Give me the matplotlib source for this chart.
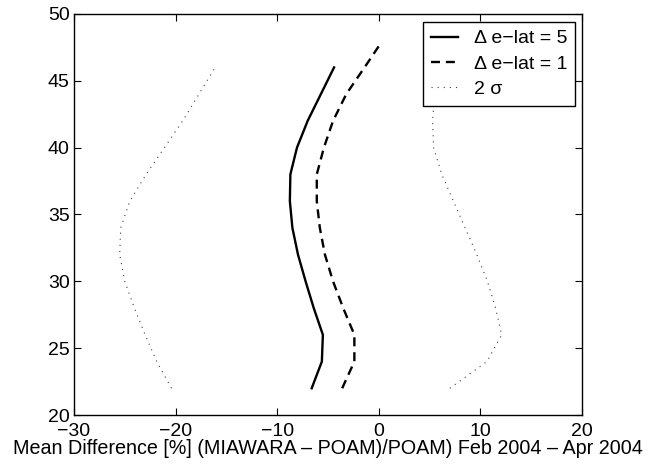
import numpy as np
import matplotlib
matplotlib.use('Agg')
import matplotlib.pyplot as plt

plt.rcParams['font.family'] = ['Liberation Sans', 'DejaVu Sans']

# altitude levels [km]
alt = [22, 24, 26, 28, 30, 32, 34, 36, 38, 40, 42, 44, 46]
alt_e1 = [22, 24, 26, 28, 30, 32, 34, 36, 38, 40, 42, 44, 46, 47.7]

# mean difference [%], e-lat window 5
diff_e5 = [-6.6, -5.6, -5.5, -6.4, -7.2, -7.95, -8.5, -8.75, -8.7, -8.05, -7.0, -5.7, -4.4]
# mean difference [%], e-lat window 1
diff_e1 = [-3.6, -2.4, -2.4, -3.5, -4.5, -5.3, -5.8, -6.1, -6.1, -5.4, -4.5, -3.2, -1.4, 0.1]
# 2 sigma envelope
sig_lo = [-20.4, -21.85, -23.0, -24.05, -25.0, -25.5, -25.4, -24.5, -22.9, -21.1, -19.3, -17.7, -16.1]
sig_hi = [7.0, 10.65, 12.1, 11.5, 10.7, 9.65, 8.5, 7.35, 6.2, 5.4, 5.3, 5.5, 5.8]

fig = plt.figure(figsize=(6.5, 4.65), dpi=100)
ax = fig.add_axes([0.1138, 0.1075, 0.7815, 0.8625])

ax.plot(diff_e5, alt, color='k', lw=1.7, label='\u0394 e\u2212lat = 5')
ax.plot(diff_e1, alt_e1, color='k', lw=1.7, dashes=(3.8, 2.5), label='\u0394 e\u2212lat = 1')
ax.plot(sig_lo, alt, color='0.25', lw=0.8, dashes=(1, 4.5), label='2 \u03c3')
ax.plot(sig_hi, alt, color='0.25', lw=0.8, dashes=(1, 4.5))

ax.set_xlim(-30, 20)
ax.set_ylim(20, 50)
ax.set_xticks(np.arange(-30, 21, 10))
ax.set_yticks(np.arange(20, 51, 5))
ax.tick_params(direction='in', top=True, right=True, length=5, width=0.8, labelsize=14)
ax.tick_params(axis='x', pad=6)
ax.tick_params(axis='y', pad=3)
for s in ax.spines.values():
    s.set_linewidth(1.0)

ax.set_xlabel('Mean Difference [%] (MIAWARA \u2013 POAM)/POAM) Feb 2004 \u2013 Apr 2004',
              fontsize=14.2, labelpad=-1)

leg = ax.legend(loc='upper right', bbox_to_anchor=(0.986, 0.980), borderaxespad=0,
                fontsize=14, fancybox=False, framealpha=1, edgecolor='k',
                handlelength=1.4, handletextpad=0.8, labelspacing=0.4, borderpad=0.4)
leg.get_frame().set_linewidth(1.0)

fig.savefig('out.png', dpi=100)
